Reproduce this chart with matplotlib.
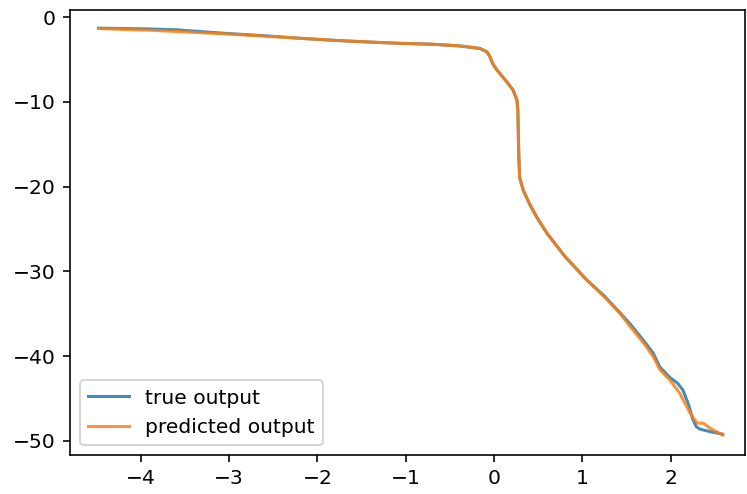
import numpy as np
import matplotlib.pyplot as plt

# data
x_true = [-4.48, -4.2, -3.9, -3.6, -3.4, -3.0, -2.6, -2.2, -1.8, -1.4, -1.06,
          -0.7, -0.39, -0.16, -0.08, -0.045, -0.02, 0.03, 0.15, 0.215, 0.26, 0.27,
          0.28, 0.29, 0.33, 0.41, 0.49, 0.6, 0.8, 1.05, 1.25, 1.43, 1.55,
          1.69, 1.8, 1.88, 1.99, 2.08, 2.14, 2.2, 2.25, 2.29, 2.33, 2.45, 2.59]
y_true = [-1.3, -1.35, -1.4, -1.5, -1.65, -1.95, -2.2, -2.5, -2.75, -2.95, -3.1,
          -3.2, -3.4, -3.7, -4.1, -4.7, -5.4, -6.2, -7.7, -8.6, -9.8, -11.0,
          -16.0, -18.9, -20.4, -22.2, -23.7, -25.5, -28.2, -31.0, -32.9,
          -34.9, -36.3, -38.1, -39.6, -41.3, -42.5, -43.2, -44.0, -45.6, -47.4,
          -48.3, -48.6, -48.9, -49.2]

x_pred = [-4.48, -4.2, -3.9, -3.6, -3.4, -3.0, -2.6, -2.2, -1.8, -1.4, -1.06,
          -0.7, -0.39, -0.16, -0.08, -0.045, -0.02, 0.03, 0.15, 0.215, 0.26, 0.27,
          0.28, 0.29, 0.33, 0.41, 0.49, 0.6, 0.8, 1.05, 1.25, 1.43, 1.55,
          1.69, 1.8, 1.88, 1.99, 2.1, 2.22, 2.3, 2.37, 2.45, 2.59]
y_pred = [-1.35, -1.45, -1.55, -1.7, -1.8, -2.0, -2.25, -2.5, -2.75, -2.95, -3.1,
          -3.2, -3.4, -3.7, -4.1, -4.7, -5.4, -6.2, -7.7, -8.6, -9.8, -11.0,
          -16.0, -18.9, -20.4, -22.2, -23.7, -25.5, -28.2, -31.0, -33.0,
          -35.0, -36.6, -38.4, -40.0, -41.6, -42.8, -44.3, -46.7, -47.9, -47.9,
          -48.5, -49.3]

dpi = 146
fig, ax = plt.subplots(figsize=(747 / dpi, 494 / dpi), dpi=dpi)
fig.subplots_adjust(left=0.094, right=0.997, bottom=0.079, top=0.98)

ax.plot(x_true, y_true, label='true output', alpha=0.85)
ax.plot(x_pred, y_pred, label='predicted output', alpha=0.85)
ax.set_xlim(-4.80, 2.84)
ax.set_ylim(-51.65, 0.85)
ax.legend(loc='lower left')

fig.savefig('out.png', dpi=dpi)
